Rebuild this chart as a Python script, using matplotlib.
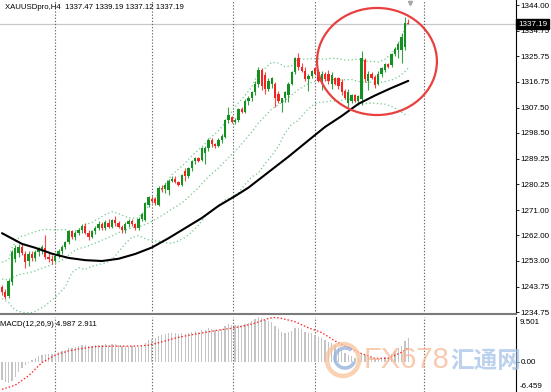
"""XAUUSDpro H4 chart in MT4 style: candles, Bollinger bands, MA and MACD."""

import matplotlib

matplotlib.use("Agg")
import matplotlib.pyplot as plt  # noqa: E402
from matplotlib.patches import Ellipse, Arc  # noqa: E402
from matplotlib.transforms import blended_transform_factory  # noqa: E402


HEADER = "XAUUSDpro,H4  1337.47 1339.19 1337.12 1337.19"
MACD_LABEL = "MACD(12,26,9) 4.987 2.911"
LAST_PRICE = 1337.19

opens = [
    1243.5, 1242.0, 1240.3, 1245.5, 1253.5, 1255.8, 1258.0, 1255.5, 1253.0, 1255.5,
    1254.0, 1256.0, 1257.0, 1257.5, 1254.5, 1253.5, 1253.0, 1254.8, 1256.5, 1258.0,
    1259.8, 1263.5, 1261.5, 1262.8, 1264.0, 1265.2, 1263.0, 1261.5, 1263.5, 1264.8,
    1266.0, 1264.8, 1266.5, 1265.0, 1267.5, 1266.5, 1265.0, 1264.0, 1266.0, 1267.2,
    1266.0, 1264.8, 1268.0, 1267.5, 1273.0, 1275.0, 1275.0, 1273.0, 1279.0, 1278.5,
    1278.0, 1281.5, 1282.2, 1281.0, 1280.0, 1285.0, 1283.0, 1286.0, 1288.5, 1289.5,
    1289.0, 1291.5, 1293.0, 1296.0, 1294.5, 1294.0, 1296.0, 1297.0, 1303.0, 1304.0,
    1302.5, 1303.0, 1307.0, 1306.0, 1310.0, 1311.0, 1313.0, 1316.0, 1321.0, 1319.0,
    1314.0, 1316.0, 1316.0, 1312.5, 1309.0, 1310.8, 1312.0, 1316.0, 1320.0, 1325.0,
    1322.0, 1320.5, 1317.5, 1318.8, 1321.5, 1320.0, 1316.5, 1319.5, 1319.5, 1316.0,
    1318.0, 1318.0, 1316.5, 1313.5, 1309.0, 1310.0, 1312.0, 1310.0, 1310.5, 1324.5,
    1317.0, 1319.5, 1318.5, 1316.0, 1319.5, 1321.0, 1323.0, 1322.5, 1326.5, 1328.0,
    1328.0, 1329.0, 1337.47,
]
highs = [
    1244.5, 1243.0, 1246.5, 1256.8, 1258.5, 1259.0, 1258.8, 1256.5, 1256.5, 1256.5,
    1256.8, 1257.8, 1258.5, 1262.0, 1255.8, 1255.0, 1255.5, 1257.0, 1258.5, 1260.0,
    1264.0, 1264.0, 1263.5, 1264.8, 1266.0, 1266.5, 1264.0, 1264.0, 1265.5, 1267.0,
    1266.8, 1267.5, 1268.0, 1268.0, 1268.8, 1267.0, 1265.8, 1266.8, 1268.0, 1268.0,
    1266.5, 1268.5, 1270.0, 1274.0, 1276.0, 1276.0, 1275.5, 1279.5, 1280.0, 1280.5,
    1282.0, 1283.0, 1283.0, 1281.5, 1284.0, 1286.0, 1286.5, 1289.0, 1290.0, 1290.0,
    1293.5, 1294.0, 1296.5, 1296.5, 1295.0, 1296.5, 1298.0, 1303.5, 1307.8, 1304.5,
    1303.8, 1307.5, 1307.8, 1310.5, 1311.5, 1313.5, 1317.0, 1322.0, 1321.5, 1320.0,
    1318.0, 1318.5, 1316.5, 1313.5, 1311.0, 1313.5, 1316.5, 1320.5, 1325.5, 1327.0,
    1323.5, 1322.0, 1319.5, 1321.0, 1322.0, 1321.0, 1320.5, 1320.0, 1320.8, 1320.0,
    1318.5, 1318.5, 1317.5, 1314.0, 1314.0, 1312.5, 1312.5, 1312.0, 1327.5, 1325.0,
    1320.5, 1320.0, 1319.0, 1320.5, 1322.0, 1323.5, 1323.5, 1327.0, 1329.0, 1331.0,
    1334.0, 1339.7, 1339.19,
]
lows = [
    1240.8, 1239.5, 1239.8, 1244.5, 1252.5, 1254.5, 1255.0, 1250.5, 1251.0, 1253.0,
    1253.0, 1254.8, 1255.5, 1253.5, 1252.5, 1252.0, 1252.5, 1253.8, 1255.5, 1257.0,
    1259.0, 1260.8, 1260.5, 1262.0, 1263.0, 1262.5, 1260.5, 1261.0, 1262.5, 1263.8,
    1264.0, 1264.0, 1264.5, 1264.5, 1265.5, 1264.5, 1263.0, 1263.0, 1265.0, 1265.5,
    1264.0, 1264.0, 1267.0, 1267.0, 1272.0, 1273.5, 1273.0, 1272.5, 1277.5, 1277.0,
    1276.5, 1281.0, 1280.5, 1279.5, 1279.5, 1281.5, 1282.5, 1285.0, 1287.5, 1288.0,
    1288.5, 1287.5, 1292.0, 1293.5, 1293.0, 1293.5, 1295.0, 1296.5, 1302.0, 1302.0,
    1301.8, 1302.5, 1305.5, 1305.5, 1308.5, 1310.0, 1312.0, 1314.8, 1313.8, 1312.5,
    1313.5, 1314.5, 1307.8, 1309.0, 1306.0, 1309.5, 1309.5, 1315.5, 1319.5, 1321.0,
    1320.0, 1316.8, 1313.5, 1318.0, 1319.0, 1316.5, 1313.8, 1317.0, 1316.0, 1314.0,
    1315.5, 1314.0, 1312.0, 1310.5, 1307.8, 1309.0, 1309.5, 1308.5, 1308.5, 1316.5,
    1313.8, 1317.5, 1314.5, 1315.5, 1318.5, 1320.0, 1321.5, 1322.0, 1326.0, 1325.0,
    1323.4, 1328.0, 1337.12,
]
closes = [
    1241.8, 1240.2, 1245.8, 1256.0, 1257.5, 1258.0, 1255.8, 1252.5, 1255.5, 1254.0,
    1256.0, 1257.0, 1257.8, 1254.5, 1253.5, 1253.0, 1254.8, 1256.5, 1258.0, 1259.5,
    1263.5, 1261.5, 1262.8, 1264.0, 1265.2, 1263.0, 1261.5, 1263.5, 1264.8, 1266.0,
    1264.8, 1266.8, 1265.0, 1267.5, 1266.5, 1265.0, 1264.0, 1266.0, 1267.2, 1266.0,
    1264.8, 1268.0, 1269.5, 1273.5, 1275.5, 1274.2, 1273.5, 1279.0, 1278.5, 1279.8,
    1281.5, 1282.2, 1281.0, 1280.0, 1283.5, 1283.0, 1286.0, 1288.5, 1289.5, 1288.5,
    1293.0, 1293.0, 1296.0, 1294.5, 1293.8, 1296.0, 1297.5, 1303.0, 1305.0, 1302.5,
    1303.0, 1307.0, 1306.0, 1310.0, 1311.0, 1313.0, 1316.0, 1321.0, 1315.0, 1314.0,
    1317.0, 1318.0, 1311.0, 1309.8, 1310.8, 1313.0, 1316.0, 1320.0, 1325.0, 1322.0,
    1320.5, 1317.5, 1318.8, 1320.5, 1319.5, 1317.0, 1319.5, 1317.8, 1316.8, 1319.0,
    1316.0, 1315.0, 1313.0, 1311.0, 1313.0, 1311.8, 1310.0, 1311.5, 1325.0, 1317.5,
    1319.5, 1318.0, 1315.5, 1319.5, 1321.5, 1323.0, 1322.0, 1326.5, 1328.5, 1330.0,
    1332.5, 1337.5, 1337.19,
]

# Bollinger bands (20, 2) at these candle numbers
band_idx = [
    0, 1, 2, 3, 4, 5, 6, 7, 8, 9, 10, 11, 13, 15, 17,
    19, 21, 23, 25, 27, 29, 31, 33, 35, 37, 39, 41, 43, 45, 47, 49, 51, 53, 55,
    57, 59, 61, 63, 65, 67, 69, 71, 73, 75, 77, 79, 81, 83, 85, 87, 89, 91, 93,
    95, 97, 99, 101, 103, 105, 107, 109, 111, 113, 115, 117, 119, 121, 122,
]
band_upper = [
    1252.5, 1252.8, 1253.5, 1257.5, 1259.5, 1261.0, 1261.8, 1262.0, 1262.5, 1262.9,
    1263.3, 1263.7, 1264.2, 1264.0, 1264.0,
    1264.1, 1263.2, 1264.1, 1265.9, 1266.6, 1268.0, 1269.4, 1270.4, 1269.8, 1268.7,
    1268.1, 1268.3, 1270.9, 1274.0, 1276.8, 1280.2, 1283.6, 1285.6, 1287.7, 1290.4,
    1292.4, 1294.7, 1297.2, 1299.2, 1302.2, 1306.1, 1309.2, 1311.8, 1314.8, 1319.8,
    1321.5, 1323.6, 1323.3, 1322.0, 1322.4, 1324.9, 1324.7, 1324.9, 1324.9, 1324.7,
    1325.1, 1324.9, 1324.4, 1324.5, 1324.8, 1324.1, 1323.9, 1323.7, 1324.7, 1326.7,
    1330.2, 1335.5, 1338.1,
]
band_mid = [
    1246.5, 1246.2, 1246.3, 1247.0, 1247.5, 1248.0, 1248.3, 1248.4, 1248.7, 1249.0,
    1249.4, 1249.9, 1250.8, 1251.6, 1252.6,
    1253.9, 1256.0, 1257.3, 1257.9, 1258.8, 1259.8, 1260.8, 1261.8, 1263.0, 1263.9,
    1264.7, 1265.1, 1265.9, 1267.0, 1268.4, 1269.8, 1271.4, 1272.8, 1274.5, 1276.8,
    1279.0, 1281.7, 1284.0, 1286.0, 1288.4, 1290.9, 1293.2, 1296.0, 1298.8, 1302.0,
    1304.5, 1307.0, 1308.5, 1310.2, 1312.0, 1313.9, 1315.3, 1316.5, 1317.1, 1317.1,
    1317.5, 1317.3, 1317.4, 1317.5, 1316.8, 1316.5, 1316.5, 1316.3, 1316.7, 1317.3,
    1318.4, 1320.3, 1321.5,
]
band_lower = [
    1239.5, 1238.8, 1238.2, 1236.5, 1235.5, 1235.0, 1234.7, 1234.5, 1234.5, 1234.6,
    1235.0, 1235.6, 1237.0, 1239.0, 1241.2,
    1243.7, 1248.8, 1250.5, 1249.9, 1251.0, 1251.6, 1252.2, 1253.2, 1256.2, 1259.1,
    1261.3, 1261.9, 1260.9, 1260.0, 1260.0, 1259.4, 1259.2, 1260.0, 1261.3, 1263.2,
    1265.6, 1268.7, 1270.8, 1272.8, 1274.6, 1275.7, 1277.2, 1280.2, 1282.8, 1284.2,
    1287.5, 1290.4, 1293.7, 1298.4, 1301.6, 1302.9, 1305.9, 1308.1, 1309.3, 1309.5,
    1309.9, 1309.7, 1310.4, 1310.5, 1308.8, 1308.9, 1309.1, 1308.9, 1308.7, 1307.9,
    1306.6, 1305.1, 1304.9,
]

# black moving average
ma_idx = [0, 6, 10, 15, 20, 25, 30, 35, 40, 45, 50, 55, 60, 65, 70, 74, 80, 86,
          92, 97, 102, 107, 112, 117, 122]
ma_values = [1262.8, 1259.0, 1257.6, 1255.5, 1254.0, 1253.2, 1252.9, 1253.7, 1255.4,
             1257.7, 1261.0, 1264.6, 1268.2, 1272.5, 1276.0, 1279.0, 1284.5, 1290.0,
             1295.8, 1300.6, 1304.5, 1308.8, 1311.8, 1314.5, 1317.0]

macd_hist = [
    -3.8, -4.3, -4.5, -4.2, -3.3, -2.2, -1.3, -0.7, -0.2, 0.4,
    0.8, 1.2, 1.5, 1.6, 1.6, 1.6, 1.7, 2.0, 2.3, 2.5,
    2.8, 3.0, 3.1, 3.3, 3.5, 3.5, 3.4, 3.4, 3.5, 3.6,
    3.6, 3.7, 3.6, 3.7, 3.7, 3.5, 3.3, 3.3, 3.4, 3.3,
    3.1, 3.2, 3.4, 4.0, 4.6, 4.9, 5.0, 5.5, 5.7, 5.9,
    6.1, 6.2, 6.1, 5.9, 6.0, 5.9, 6.0, 6.3, 6.5, 6.4,
    6.7, 6.8, 7.1, 7.0, 6.8, 6.8, 6.9, 7.5, 8.0, 7.9,
    7.7, 7.9, 7.8, 8.1, 8.3, 8.6, 9.0, 9.6, 9.3, 8.9,
    8.7, 8.5, 7.6, 6.9, 6.4, 6.2, 6.3, 6.6, 7.2, 7.2,
    6.9, 6.4, 6.1, 6.0, 5.6, 5.2, 5.0, 4.6, 4.2, 4.0,
    3.5, 2.9, 2.4, 1.9, 1.5, 1.1, 0.8, 0.6, 1.6, 1.4,
    1.2, 0.9, 0.5, 0.5, 0.7, 0.9, 1.0, 1.6, 2.2, 2.9,
    3.4, 4.3, 4.987,
]
signal_idx = [0, 4, 8, 12, 16, 20, 24, 28, 32, 36, 40, 44, 48, 52, 56, 60, 64, 68,
              72, 76, 80, 82, 84, 88, 92, 96, 100, 104, 108, 112, 116, 120, 122]
signal_values = [-5.9, -5.0, -3.0, -0.2, 1.4, 2.3, 2.8, 3.2, 3.3, 3.3, 3.3, 3.5, 4.2,
                 5.0, 5.6, 6.1, 6.6, 7.0, 7.5, 8.2, 9.2, 9.4, 9.2, 8.5, 7.2, 6.2, 4.4,
                 3.0, 1.7, 0.7, 0.7, 2.0, 2.911]

price_ticks = [1344.00, 1334.75, 1325.75, 1316.75, 1307.50, 1298.50, 1289.25,
               1280.25, 1271.00, 1262.00, 1253.00, 1243.75, 1234.75]
macd_range = (-6.459, 9.501)
grid_idx = [15.9, 45.0, 69.4, 94.0, 126.7]

# red circle drawn around the latest rally
circle_center = (112.6, 1323.9)
circle_size = (36.0, 38.1)

W, H = 551, 392
X_RANGE = (-0.6, 154.35)
Y_RANGE = (1234.04, 1345.78)
FONT = ["Liberation Sans", "DejaVu Sans"]
BULL = "#148f22"
BEAR = "#f42424"
GRID_STYLE = dict(color="#6a6a6a", linewidth=0.8, linestyle=(0, (1.2, 1.6)), zorder=0.6)

plt.rcParams["font.family"] = FONT

fig = plt.figure(figsize=(W / 100, H / 100), dpi=100)
fig.patch.set_facecolor("white")
ax = fig.add_axes([0, 1 - 314 / H, 516 / W, 314 / H])
axm = fig.add_axes([0, 0, 516 / W, 75 / H])

# --- price panel ---
idx = list(range(len(closes)))
colors = [BULL if c >= o else BEAR for o, c in zip(opens, closes)]
bottoms = [min(o, c) for o, c in zip(opens, closes)]
heights = [max(abs(c - o), 0.25) for o, c in zip(opens, closes)]
ax.vlines(idx, lows, highs, colors=colors, linewidth=0.8, alpha=0.85, zorder=3)
ax.bar(idx, heights, bottom=bottoms, width=0.7, color=colors, linewidth=0, zorder=4)

band_style = dict(color="#72c98b", linewidth=0.9, linestyle=(0, (1, 2)), zorder=2)
ax.plot(band_idx, band_upper, **band_style)
ax.plot(band_idx, band_mid, **band_style)
ax.plot(band_idx, band_lower, **band_style)
ax.plot(ma_idx, ma_values, color="black", linewidth=1.5, solid_capstyle="round", zorder=5)

ax.axhline(LAST_PRICE, color="#c8c8c8", linewidth=0.9, zorder=0.5)
for g in grid_idx:
    ax.axvline(g, **GRID_STYLE)
    axm.axvline(g, **GRID_STYLE)

ax.add_patch(Ellipse(circle_center, circle_size[0], circle_size[1], fill=False,
                     edgecolor="#e8403f", linewidth=1.6, zorder=6))
ax.plot([410 / 516], [1 - 3 / 314], marker="v", markersize=3, color="#a8a8a8",
        transform=ax.transAxes, clip_on=False, zorder=6)

ax.set_xlim(*X_RANGE)
ax.set_ylim(*Y_RANGE)
ax.set_xticks([])
ax.yaxis.tick_right()
ax.set_yticks(price_ticks)
ax.set_yticklabels([f"{t:.2f}" for t in price_ticks])
ax.tick_params(axis="y", direction="out", length=2, width=0.6, pad=1.2,
               labelsize=5.8, colors="black")
for side in ("top", "left"):
    ax.spines[side].set_visible(False)
ax.spines["right"].set_color("black")
ax.spines["right"].set_linewidth(0.8)
ax.spines["bottom"].set_color("#7a7a7a")
ax.spines["bottom"].set_linewidth(1.5)

trans = blended_transform_factory(ax.transAxes, ax.transData)
ax.text(1.004, LAST_PRICE, f"{LAST_PRICE:.2f}", transform=trans, ha="left",
        va="center", fontsize=5.8, color="white", zorder=8,
        bbox=dict(boxstyle="square,pad=0.22", facecolor="black", edgecolor="black"))
fig.text(5 / W, 1 - 7.5 / H, HEADER, fontsize=5.6, ha="left", va="center")

# --- MACD panel ---
axm.bar(idx, macd_hist, width=0.38, color="#c4c4c4", linewidth=0, zorder=2)
axm.plot(signal_idx, signal_values, color="#ff2020", linewidth=0.9,
         linestyle=(0, (1.2, 1.6)), zorder=3)
axm.set_xlim(*X_RANGE)
axm.set_ylim(*macd_range)
axm.set_xticks([])
axm.yaxis.tick_right()
axm.set_yticks([0.0])
axm.set_yticklabels(["0.00"])
axm.tick_params(axis="y", direction="out", length=2, width=0.6, pad=1.2,
                labelsize=5.8, colors="black")
for side in ("top", "left", "bottom"):
    axm.spines[side].set_visible(False)
axm.spines["right"].set_color("black")
axm.spines["right"].set_linewidth(0.8)
mtrans = blended_transform_factory(axm.transAxes, axm.transData)
axm.annotate(f"{macd_range[1]:.3f}", xy=(1, macd_range[1]), xycoords=mtrans,
             xytext=(2.4, -1.5), textcoords="offset points", ha="left", va="top",
             fontsize=5.8, annotation_clip=False)
axm.annotate(f"{macd_range[0]:.3f}", xy=(1, macd_range[0]), xycoords=mtrans,
             xytext=(2.4, 1.2), textcoords="offset points", ha="left", va="bottom",
             fontsize=5.8, annotation_clip=False)
axm.text(0.0, 1 - 8 / 75, MACD_LABEL, transform=axm.transAxes, fontsize=5.6,
         ha="left", va="center")

# --- FX678 watermark ---
fig.add_artist(Ellipse((343 / W, 1 - 360 / H), 32 / W, 32 / H, fill=False,
                       edgecolor="#f7c29a", linewidth=3.2, alpha=0.75))
fig.add_artist(Arc((345 / W, 1 - 358 / H), 20 / W, 20 / H, theta1=60, theta2=330,
                   edgecolor="#98b4de", linewidth=2.6, alpha=0.8))
fig.text(407 / W, 1 - 360 / H, "FX678", fontsize=21, ha="center", va="center",
         color="#f6b48e", alpha=0.7,
         family=["Liberation Sans Narrow", "Liberation Sans", "DejaVu Sans"])
fig.text(486 / W, 1 - 361 / H, "汇通网", fontsize=17, ha="center", va="center",
         color="#a6c2e8", alpha=0.75, fontweight="bold",
         family=["Noto Sans CJK SC", "DejaVu Sans"])

fig.savefig("out.png", dpi=100)
plt.close(fig)
